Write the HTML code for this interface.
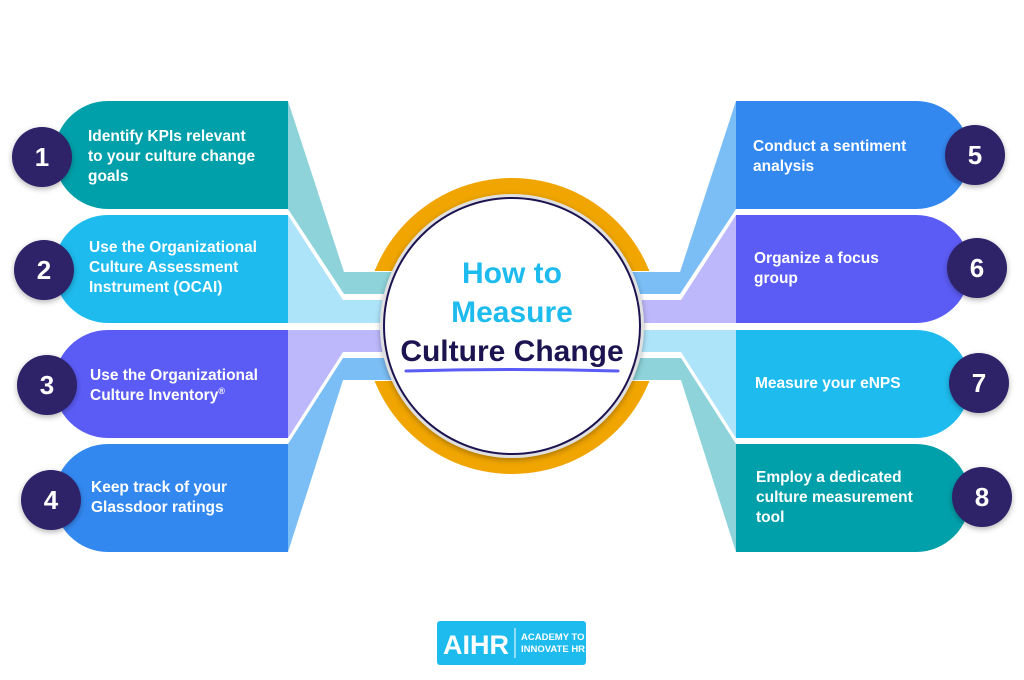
<!DOCTYPE html>
<html><head><meta charset="utf-8"><style>
body{margin:0;width:1024px;height:680px;background:#fff;overflow:hidden;font-family:"Liberation Sans",sans-serif}
svg{position:absolute;left:0;top:0}
.t{position:absolute;color:#fff;font-weight:bold;font-size:15.5px;line-height:20px}
</style></head><body>
<svg width="1024" height="680" viewBox="0 0 1024 680">
<defs><filter id="sh" x="-20%" y="-20%" width="140%" height="140%"><feDropShadow dx="0" dy="2" stdDeviation="3" flood-opacity="0.3"/></filter></defs>
<!-- ring -->
<circle cx="512" cy="326" r="148" fill="#f0a500"/>
<rect x="355" y="271" width="314" height="110" fill="#fff"/>
<!-- left connectors -->
<polygon points="288,101 344,272 400,272 400,294 344,294 288,209" fill="#8dd3d9"/>
<polygon points="288,215 343,300 400,300 400,323 288,323" fill="#aee4fa"/>
<polygon points="288,330 400,330 400,352 343,352 288,438" fill="#bcb8fb"/>
<polygon points="343,358 400,358 400,380 343,380 288,552 288,444" fill="#7bbef5"/>
<!-- right connectors -->
<polygon points="736,101 680,272 624,272 624,294 680,294 736,209" fill="#7bbef5"/>
<polygon points="736,215 681,300 624,300 624,323 736,323" fill="#bcb8fb"/>
<polygon points="736,330 624,330 624,352 681,352 736,438" fill="#aee4fa"/>
<polygon points="681,358 624,358 624,380 681,380 736,552 736,444" fill="#8dd3d9"/>
<circle cx="512" cy="326" r="130" fill="#fff" stroke="#e0e0e0" stroke-width="4" filter="url(#sh)"/>
<circle cx="512" cy="326" r="128" fill="#fff" stroke="#1c1450" stroke-width="2"/>
<text x="512" y="283" text-anchor="middle" font-family="Liberation Sans" font-weight="bold" font-size="30" fill="#1ebbee">How to</text>
<text x="512" y="322" text-anchor="middle" font-family="Liberation Sans" font-weight="bold" font-size="30" fill="#1ebbee">Measure</text>
<text x="512" y="361" text-anchor="middle" font-family="Liberation Sans" font-weight="bold" font-size="30" fill="#1c1450">Culture Change</text>
<path d="M406,371 Q512,368 618,371" stroke="#5b5cf6" stroke-width="3" fill="none" stroke-linecap="round"/>
<!-- left boxes -->
<path d="M288,101 H108 A54,54 0 0 0 108,209 H288Z" fill="#00a0aa"/>
<path d="M288,215 H108 A54,54 0 0 0 108,323 H288Z" fill="#1ebbee"/>
<path d="M288,330 H108 A54,54 0 0 0 108,438 H288Z" fill="#5b5cf6"/>
<path d="M288,444 H108 A54,54 0 0 0 108,552 H288Z" fill="#3388f0"/>
<!-- right boxes -->
<path d="M736,101 H916 A54,54 0 0 1 916,209 H736Z" fill="#3388f0"/>
<path d="M736,215 H916 A54,54 0 0 1 916,323 H736Z" fill="#5b5cf6"/>
<path d="M736,330 H916 A54,54 0 0 1 916,438 H736Z" fill="#1ebbee"/>
<path d="M736,444 H916 A54,54 0 0 1 916,552 H736Z" fill="#00a0aa"/>
<g fill="#2e2068" filter="url(#sh)">
<circle cx="42" cy="157" r="30"/><circle cx="44" cy="270" r="30"/><circle cx="47" cy="385" r="30"/><circle cx="51" cy="500" r="30"/>
<circle cx="975" cy="155" r="30"/><circle cx="977" cy="268" r="30"/><circle cx="979" cy="383" r="30"/><circle cx="982" cy="497" r="30"/>
</g>
<g fill="#fff" font-family="Liberation Sans" font-weight="bold" font-size="26" text-anchor="middle">
<text x="42" y="166">1</text><text x="44" y="279">2</text><text x="47" y="394">3</text><text x="51" y="509">4</text>
<text x="975" y="164">5</text><text x="977" y="277">6</text><text x="979" y="392">7</text><text x="982" y="506">8</text>
</g>
<!-- logo -->
<rect x="437" y="621" width="149" height="44" rx="3" fill="#1ebbee"/>
<text x="443" y="654" font-family="Liberation Sans" font-weight="bold" font-size="27" fill="#fff">AIHR</text>
<line x1="515" y1="628" x2="515" y2="658" stroke="#fff" stroke-width="1"/>
<text x="521" y="640" font-family="Liberation Sans" font-weight="bold" font-size="9.5" fill="#fff">ACADEMY TO</text>
<text x="521" y="652" font-family="Liberation Sans" font-weight="bold" font-size="9.5" fill="#fff">INNOVATE HR</text>
</svg>
<div class="t" style="left:88px;top:127px">Identify KPIs relevant<br>to your culture change<br>goals</div>
<div class="t" style="left:89px;top:238px">Use the Organizational<br>Culture Assessment<br>Instrument (OCAI)</div>
<div class="t" style="left:90px;top:366px">Use the Organizational<br>Culture Inventory<sup style="font-size:9px;line-height:0">®</sup></div>
<div class="t" style="left:91px;top:478px">Keep track of your<br>Glassdoor ratings</div>
<div class="t" style="left:753px;top:137px">Conduct a sentiment<br>analysis</div>
<div class="t" style="left:754px;top:249px">Organize a focus<br>group</div>
<div class="t" style="left:755px;top:374px">Measure your eNPS</div>
<div class="t" style="left:756px;top:468px">Employ a dedicated<br>culture measurement<br>tool</div>
</body></html>
